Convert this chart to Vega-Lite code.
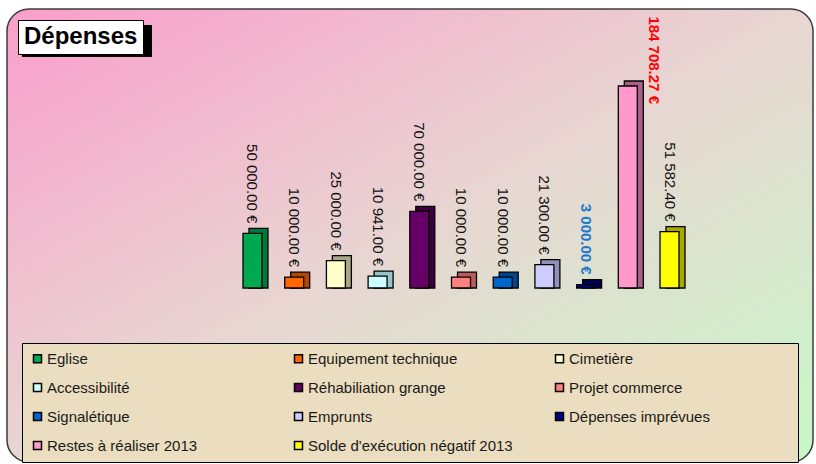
{
  "$schema": "https://vega.github.io/schema/vega-lite/v6.json",
  "width": 816,
  "height": 464,
  "autosize": {"type": "fit", "contains": "padding"},
  "padding": {"left": 7, "top": 9, "right": 3, "bottom": 2},
  "background": "white",
  "config": {
    "font": "Liberation Sans",
    "view": {
      "fill": {"gradient": "linear", "x1": 0, "y1": 0, "x2": 1, "y2": 1, "stops": [{"offset": 0, "color": "#FA9ECB"}, {"offset": 0.5, "color": "#E8D6D2"}, {"offset": 1, "color": "#C8F8C8"}]},
      "stroke": "#3c3c3c",
      "strokeWidth": 1.5,
      "cornerRadius": 22
    },
    "locale": {"number": {"decimal": ".", "thousands": " ", "grouping": [3], "currency": ["", " €"]}}
  },
  "data": {
    "values": [
      {"categorie": "Eglise", "montant": 50000, "serie": "Dépenses"},
      {"categorie": "Equipement technique", "montant": 10000, "serie": "Dépenses"},
      {"categorie": "Cimetière", "montant": 25000, "serie": "Dépenses"},
      {"categorie": "Accessibilité", "montant": 10941, "serie": "Dépenses"},
      {"categorie": "Réhabiliation grange", "montant": 70000, "serie": "Dépenses"},
      {"categorie": "Projet commerce", "montant": 10000, "serie": "Dépenses"},
      {"categorie": "Signalétique", "montant": 10000, "serie": "Dépenses"},
      {"categorie": "Emprunts", "montant": 21300, "serie": "Dépenses"},
      {"categorie": "Dépenses imprévues", "montant": 3000, "serie": "Dépenses"},
      {"categorie": "Restes à réaliser 2013", "montant": 184708.27, "serie": "Dépenses"},
      {"categorie": "Solde d'exécution négatif 2013", "montant": 51582.4, "serie": "Dépenses"}
    ]
  },
  "encoding": {
    "x": {"field": "categorie", "type": "nominal", "sort": null, "axis": null, "scale": {"range": [236, 672], "paddingInner": 0.545, "paddingOuter": 0}},
    "y": {"field": "montant", "type": "quantitative", "axis": null, "scale": {"domain": [-159100, 255100], "nice": false, "zero": false}}
  },
  "layer": [
    {
      "mark": {"type": "bar", "xOffset": 6, "yOffset": -5, "stroke": "black", "strokeWidth": 1.3},
      "encoding": {
        "y2": {"datum": 0},
        "fill": {"field": "categorie", "type": "nominal", "sort": null, "legend": null,
          "scale": {"range": ["#007A3A", "#B04800", "#A8A888", "#96C4C8", "#3C003C", "#B85C5C", "#00468C", "#9090B8", "#000050", "#A86088", "#A8A800"]}}
      }
    },
    {
      "mark": {"type": "bar", "stroke": "black", "strokeWidth": 1.3},
      "encoding": {
        "y2": {"datum": 0},
        "color": {"field": "categorie", "type": "nominal", "sort": null,
          "scale": {"domain": ["Eglise", "Equipement technique", "Cimetière", "Accessibilité", "Réhabiliation grange", "Projet commerce", "Signalétique", "Emprunts", "Dépenses imprévues", "Restes à réaliser 2013", "Solde d'exécution négatif 2013"],
            "range": ["#00A84F", "#FF6600", "#FFFFCC", "#CCFFFF", "#660066", "#FF8080", "#0066CC", "#CCCCFF", "#000080", "#FF99CC", "#FFFF00"]},
          "legend": {"title": " ", "titleOrient": "right", "titlePadding": 80, "titleFontSize": 15,
            "orient": "none", "direction": "horizontal", "legendX": 15, "legendY": 334, "columns": 3, "gridAlign": "all", "columnPadding": 39, "rowPadding": 13, "padding": 8,
            "fillColor": "#EBDDBF", "strokeColor": "black", "labelFontSize": 15, "labelColor": "#1a1a1a", "labelLimit": 320, "labelOffset": 2,
            "symbolType": "square", "symbolSize": 64, "symbolStrokeColor": "black", "symbolStrokeWidth": 1.5, "symbolOpacity": 1, "zindex": 0}}
      }
    },
    {
      "transform": [{"filter": "datum.categorie != 'Dépenses imprévues' && datum.categorie != 'Restes à réaliser 2013'"}],
      "mark": {"type": "text", "angle": 90, "align": "right", "baseline": "middle", "dx": -10, "fontSize": 15, "color": "#111111"},
      "encoding": {"text": {"field": "montant", "type": "quantitative", "format": "$,.2f"}}
    },
    {
      "transform": [{"filter": "datum.categorie == 'Dépenses imprévues'"}],
      "mark": {"type": "text", "angle": 90, "align": "right", "baseline": "middle", "dx": -10, "fontSize": 15, "fontWeight": "bold", "color": "#1F7ACD"},
      "encoding": {"text": {"field": "montant", "type": "quantitative", "format": "$,.2f"}}
    },
    {
      "transform": [{"filter": "datum.categorie == 'Restes à réaliser 2013'"}],
      "mark": {"type": "text", "angle": 90, "align": "right", "baseline": "middle", "dx": 18, "dy": -26, "fontSize": 15, "fontWeight": "bold", "color": "#FF0000"},
      "encoding": {"text": {"field": "montant", "type": "quantitative", "format": "$,.2f"}}
    },
    {
      "mark": {"type": "point", "filled": true, "color": "black", "size": 0},
      "encoding": {
        "shape": {"field": "serie", "type": "nominal",
          "legend": {"title": null, "orient": "top-left", "offset": 11, "fillColor": "white", "strokeColor": "black", "padding": 5,
            "labelFontSize": 24, "labelFontWeight": "bold", "labelColor": "black", "labelOffset": -23, "symbolSize": 0, "symbolOpacity": 0, "symbolStrokeWidth": 0, "zindex": 3}},
        "strokeDash": {"field": "serie", "type": "nominal",
          "legend": {"title": null, "orient": "none", "legendX": 15, "legendY": -33, "padding": 0, "labelExpr": "''", "labelOffset": 0,
            "symbolType": "M-1,-0.246H1V0.246H-1Z", "symbolSize": 16900, "symbolFillColor": "black", "symbolStrokeColor": "black", "symbolStrokeWidth": 0, "symbolOpacity": 1, "zindex": 2}}
      }
    }
  ]
}
